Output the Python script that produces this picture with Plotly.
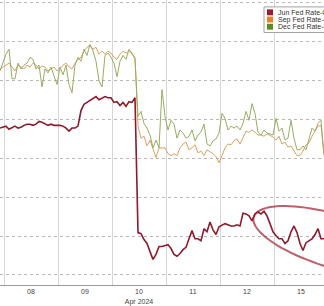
import numpy as np
import plotly.graph_objects as go

# ---- data (rate-cut odds, %), sampled every 1/18 of a trading session ----
day_labels = ["08", "09", "10<br>Apr 2024", "11", "12", "15"]
series_names = ["Jun Fed Rate-Cut Odds", "Sep Fed Rate-Cut Odds", "Dec Fed Rate-Cut Odds"]

jun_odds = [
    47.8, 48.0, 48.3, 47.5, 47.8, 48.3, 47.8, 48.0, 48.5, 48.8,
    48.8, 48.5, 48.8, 49.5, 49.3, 49.0, 48.5, 48.8, 48.5, 48.5,
    48.5, 48.3, 47.8, 47.0, 47.8, 47.8, 48.3, 52.3, 53.9, 54.4,
    54.9, 55.6, 55.9, 55.1, 55.4, 55.9, 55.6, 55.6, 54.4, 54.6,
    53.6, 54.4, 53.4, 54.6, 54.4, 55.6,
    20.9, 20.6, 19.1, 18.1, 16.0, 14.0, 15.3, 17.3, 17.3, 17.6,
    17.8, 16.8, 15.3, 14.8, 15.5, 16.5, 17.1, 19.3, 21.4, 19.3,
    19.3, 18.8, 21.9, 21.1, 23.6, 21.6, 20.4, 22.4, 22.9, 23.2,
    22.9, 22.6, 22.6, 22.9, 22.6, 25.9, 25.7, 25.2, 23.9, 25.7,
    26.2, 25.7, 26.4, 25.2, 23.2, 21.1, 20.1, 19.3, 19.3, 18.1,
    18.8, 21.1, 22.6, 20.9, 18.1, 16.3, 18.3, 18.8, 19.3, 20.4,
    21.9, 19.3, 19.3,
]

sep_odds = [
    63.0, 63.5, 64.0, 64.5, 63.5, 62.5, 64.0, 63.5, 63.0, 64.0,
    63.5, 64.5, 64.0, 63.0, 63.8, 63.5, 62.5, 63.0, 63.5, 62.5,
    63.0, 64.0, 64.5, 63.5, 63.0, 64.5, 65.5, 66.0, 67.6, 68.6,
    69.1, 68.1, 68.6, 66.8, 67.6, 66.8, 67.6, 67.1, 66.0, 65.5,
    66.8, 67.6, 67.1, 67.6, 66.8, 66.0,
    48.3, 45.2, 45.7, 43.2, 44.7, 42.7, 40.2, 42.7, 42.7, 42.7,
    41.2, 40.7, 41.2, 40.7, 42.7, 43.7, 44.2, 42.2, 42.7, 43.5,
    41.4, 41.9, 40.7, 42.2, 41.7, 41.2, 40.4, 38.9, 40.7, 42.7,
    43.7, 43.5, 44.5, 45.0, 43.7, 45.2, 47.0, 46.7, 47.3, 46.7,
    46.0, 46.0, 45.7, 46.3, 46.0, 45.5, 44.7, 45.7, 43.7, 44.2,
    42.9, 43.2, 41.9, 40.7, 40.7, 41.9, 43.5, 44.0, 45.7, 47.0,
    48.3, 48.5, 40.9,
]

dec_odds = [
    62.5, 64.8, 66.8, 68.1, 60.5, 60.5, 64.5, 63.0, 64.0, 64.5,
    66.0, 65.5, 63.0, 64.0, 58.4, 63.0, 62.0, 63.5, 61.0, 59.0,
    63.5, 61.5, 64.0, 59.0, 56.9, 64.0, 66.0, 65.0, 68.1, 66.5,
    69.3, 67.6, 65.0, 60.0, 58.4, 66.5, 67.1, 66.0, 64.5, 61.0,
    65.0, 66.5, 65.5, 68.1, 67.1, 65.5,
    50.8, 52.1, 49.0, 47.8, 46.0, 42.7, 44.7, 42.7, 57.7, 50.8,
    47.3, 49.8, 48.8, 45.2, 47.3, 46.5, 45.2, 45.7, 47.3, 44.5,
    46.0, 46.8, 48.8, 43.7, 43.2, 44.5, 45.0, 46.5, 51.6, 50.3,
    47.3, 48.3, 47.8, 48.3, 47.3, 49.0, 52.1, 49.8, 54.1, 51.6,
    46.7, 46.0, 47.3, 46.5, 46.3, 46.0, 50.3, 47.0, 47.8, 44.7,
    45.2, 49.8, 45.2, 42.2, 42.2, 43.2, 42.2, 45.2, 47.8, 47.0,
    49.0, 49.8, 40.9,
]

# time axis: trading-session index (0 = start of Apr 08), regular sampling
t_start = -4 / 54
t_step = 1 / 18


def times(n):
    return [t_start + i * t_step for i in range(n)]


W, H = 324, 306
PLOT_BOTTOM_PX = 289
Y_RANGE = [7.41, 80.76]
X_RANGE = [-4 / 54, 320 / 54]

fig = go.Figure()
fig.add_trace(go.Scatter(x=times(len(sep_odds)), y=sep_odds, mode="lines",
                         line=dict(color="#DBA064", width=1), name=series_names[1]))
fig.add_trace(go.Scatter(x=times(len(dec_odds)), y=dec_odds, mode="lines",
                         line=dict(color="#97AD62", width=1), name=series_names[2]))
fig.add_trace(go.Scatter(x=times(len(jun_odds)), y=jun_odds, mode="lines",
                         line=dict(color="#8E1A2E", width=1.6), name=series_names[0]))


def px(x):
    return x / W


def py(y):
    return 1 - y / PLOT_BOTTOM_PX


shapes = []
# highlight ellipse (rotated), drawn in pixel space then mapped to paper coords
cx, cy, a, b, th = 336, 245, 86, 27, np.deg2rad(17)
tt = np.linspace(0, 2 * np.pi, 90)
ex = cx + a * np.cos(tt) * np.cos(th) - b * np.sin(tt) * np.sin(th)
ey = cy + a * np.cos(tt) * np.sin(th) + b * np.sin(tt) * np.cos(th)
path = "M " + " L ".join(f"{px(x):.4f},{py(y):.4f}" for x, y in zip(ex, ey)) + " Z"
shapes.append(dict(type="path", path=path, xref="paper", yref="paper",
                   line=dict(color="rgba(165,35,50,0.72)", width=2)))

# legend box
shapes.append(dict(type="rect", xref="paper", yref="paper",
                   x0=px(264), x1=px(340), y0=py(33), y1=py(7),
                   fillcolor="white", line=dict(color="#A0A0A0", width=1)))
legend_colors = ["#9B1B30", "#E8832A", "#5E8A1E"]
annotations = []
for i, (name, col) in enumerate(zip(series_names, legend_colors)):
    yc = 12.5 + i * 7.3
    shapes.append(dict(type="rect", xref="paper", yref="paper",
                       x0=px(267), x1=px(273), y0=py(yc + 3), y1=py(yc - 3),
                       fillcolor=col, line=dict(width=0)))
    annotations.append(dict(x=px(276), y=py(yc), xref="paper", yref="paper",
                            text=name, showarrow=False, xanchor="left", yanchor="middle",
                            font=dict(size=7, color="#333", family="Liberation Sans, Arial")))

fig.update_layout(
    width=W, height=H,
    margin=dict(l=0, r=0, t=0, b=H - PLOT_BOTTOM_PX),
    paper_bgcolor="white", plot_bgcolor="white",
    showlegend=False,
    shapes=shapes, annotations=annotations,
    font=dict(family="Liberation Sans, Arial", size=7, color="#444"),
    xaxis=dict(range=X_RANGE, tickmode="array",
               tickvals=[0.5, 1.5, 2.5, 3.5, 4.5, 5.5], ticktext=day_labels,
               showgrid=False, zeroline=False, ticks="",
               showline=True, linecolor="#9a9a9a", linewidth=1,
               tickfont=dict(size=7, color="#444"),
               minor=dict(tickmode="array", tickvals=[0, 1, 2, 3, 4, 5],
                          showgrid=True, gridcolor="#d6d6d6", gridwidth=1, ticks="")),
    yaxis=dict(range=Y_RANGE, tick0=10, dtick=10, showticklabels=False,
               showgrid=True, gridcolor="#b8b8b8", griddash="dot", gridwidth=1,
               zeroline=False, ticks=""),
)

fig.write_html("out.html")
